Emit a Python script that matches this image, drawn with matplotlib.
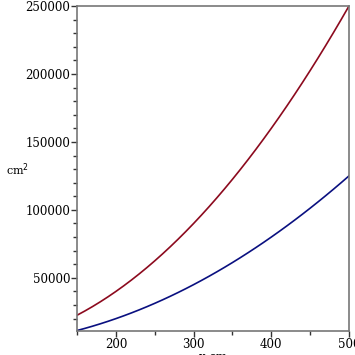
import matplotlib
matplotlib.use("Agg")
import matplotlib.pyplot as plt
from matplotlib.ticker import MultipleLocator

plt.rcParams["font.family"] = "DejaVu Serif"

# x in cm, areas in cm^2
x_cm = [150, 160, 170, 180, 190, 200, 210, 220, 230, 240, 250, 260, 270, 280,
        290, 300, 310, 320, 330, 340, 350, 360, 370, 380, 390, 400, 410, 420,
        430, 440, 450, 460, 470, 480, 490, 500]
area_top = [22500, 25600, 28900, 32400, 36100, 40000, 44100, 48400, 52900,
            57600, 62500, 67600, 72900, 78400, 84100, 90000, 96100, 102400,
            108900, 115600, 122500, 129600, 136900, 144400, 152100, 160000,
            168100, 176400, 184900, 193600, 202500, 211600, 220900, 230400,
            240100, 250000]
area_bottom = [11250, 12800, 14450, 16200, 18050, 20000, 22050, 24200, 26450,
               28800, 31250, 33800, 36450, 39200, 42050, 45000, 48050, 51200,
               54450, 57800, 61250, 64800, 68450, 72200, 76050, 80000, 84050,
               88200, 92450, 96800, 101250, 105800, 110450, 115200, 120050,
               125000]

fig = plt.figure(figsize=(3.55, 3.55), dpi=100)
ax = fig.add_axes([0.217, 0.068, 0.766, 0.915])

ax.plot(x_cm, area_top, color="#8c0a1e", linewidth=1.2)
ax.plot(x_cm, area_bottom, color="#0a1080", linewidth=1.2)

ax.set_xlim(150, 500)
ax.set_ylim(11000, 250000)

ax.xaxis.set_major_locator(MultipleLocator(100))
ax.xaxis.set_minor_locator(MultipleLocator(50))
ax.yaxis.set_major_locator(MultipleLocator(50000))
ax.yaxis.set_minor_locator(MultipleLocator(10000))

for side in ax.spines.values():
    side.set_color("#777777")
    side.set_linewidth(1.2)

ax.tick_params(which="both", colors="#333333", labelsize=8.5, width=1, pad=1)
ax.tick_params(which="major", length=4)
ax.tick_params(which="minor", length=3)
ax.tick_params(axis="both", labelcolor="black")

ax.set_xlabel("x cm", fontsize=8.5, labelpad=0)
ax.set_ylabel("cm$^2$", fontsize=8, rotation=0)
ax.yaxis.set_label_coords(-0.22, 0.47)

fig.savefig("out.png", dpi=100)
